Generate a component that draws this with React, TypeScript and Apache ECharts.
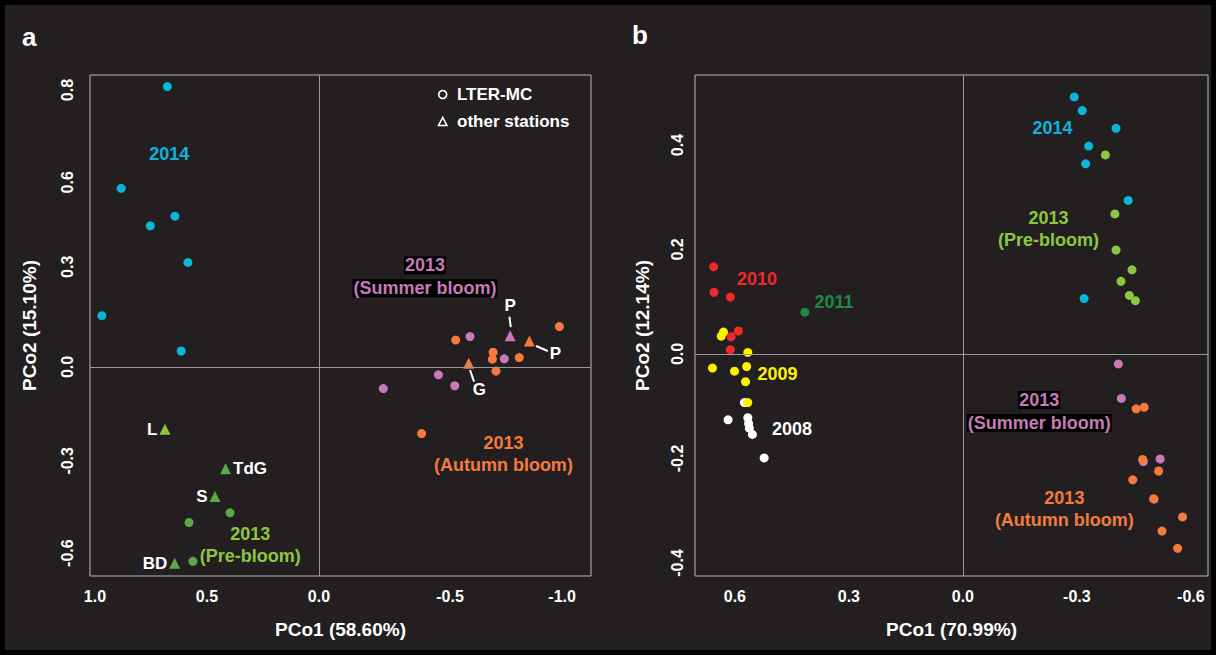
import React, { useEffect, useRef } from "react";
import * as echarts from "echarts";

// ---------- Panel a data (PCo1, PCo2) ----------
const a2014 = [[0.677, 0.896], [0.883, 0.571], [0.643, 0.482], [0.753, 0.451], [0.585, 0.334], [0.969, 0.164], [0.615, 0.051]];
const aPre = [[0.397, -0.466], [0.58, -0.497], [0.5625, -0.621]];
const aSummer = [[-0.674, 0.097], [-0.827, 0.026], [-0.533, -0.025], [-0.606, -0.06], [-0.287, -0.069]];
const aAutumn = [[-1.073, 0.129], [-0.61, 0.086], [-0.777, 0.047], [-0.774, 0.025], [-0.894, 0.03], [-0.79, -0.013], [-0.458, -0.213]];
// other stations (triangles)
const aStationNames = ["L", "TdG", "S", "BD", "P", "P", "G"];
const aStationGroup = ["preL", "pre", "pre", "pre", "summer", "autumn", "autumn"];
const aStationXY = [[0.6875, -0.199], [0.417, -0.325], [0.464, -0.414], [0.644, -0.627], [-0.853, 0.1], [-0.939, 0.083], [-0.668, 0.012]];
const aStationLabelPos = ["left", "right", "left", "left", "none", "none", "none"];
// detached labels with leader lines
const aLeaderText = [["P", -0.853, 0.196], ["P", -1.055, 0.044], ["G", -0.716, -0.071]];
const aLeaderLines = [[[-0.85, 0.161], [-0.856, 0.127]], [[-0.969, 0.067], [-1.021, 0.051]], [[-0.674, -0.01], [-0.692, -0.047]]];
const aXTickPos = [1.0, 0.5, 0.0, -0.585, -1.085];
const aXTickLabels = ["1.0", "0.5", "0.0", "-0.5", "-1.0"];
const aYTickPos = [0.885, 0.59, 0.32, 0.0, -0.3, -0.595];
const aYTickLabels = ["0.8", "0.6", "0.3", "0.0", "-0.3", "-0.6"];

// ---------- Panel b data ----------
const b2008 = [[0.575, -0.093], [0.618, -0.126], [0.566, -0.122], [0.564, -0.133], [0.562, -0.142], [0.554, -0.154], [0.523, -0.199]];
const b2010 = [[0.656, 0.167], [0.655, 0.118], [0.612, 0.109], [0.591, 0.044], [0.61, 0.033], [0.612, 0.008]];
const b2009 = [[0.636, 0.034], [0.63, 0.042], [0.566, 0.003], [0.659, -0.027], [0.601, -0.033], [0.569, -0.024], [0.572, -0.053], [0.566, -0.093]];
const b2011 = [[0.416, 0.08]];
const b2014 = [[-0.293, 0.492], [-0.314, 0.466], [-0.403, 0.432], [-0.331, 0.398], [-0.323, 0.364], [-0.435, 0.294], [-0.319, 0.106]];
const bPre = [[-0.375, 0.381], [-0.4, 0.268], [-0.403, 0.199], [-0.445, 0.161], [-0.416, 0.139], [-0.438, 0.112], [-0.454, 0.102]];
const bSummer = [[-0.409, -0.019], [-0.417, -0.085], [-0.475, -0.206], [-0.519, -0.201], [-0.503, -0.278]];
const bAutumn = [[-0.456, -0.105], [-0.477, -0.102], [-0.473, -0.202], [-0.515, -0.224], [-0.447, -0.241], [-0.502, -0.277], [-0.578, -0.312], [-0.524, -0.339], [-0.565, -0.372]];
const bXTicks = [0.6, 0.3, 0.0, -0.3, -0.6];
const bYTicks = [0.4, 0.2, 0.0, -0.2, -0.4];

const C = {
  bg: "#231f20",
  cyan: "#0db4d9",
  orange: "#f47a3e",
  purple: "#c67ab9",
  red: "#ee2a2a",
  yellow: "#fff200",
  white: "#ffffff",
  darkGreen: "#1b8a45",
  lightGreen: "#8dc63f",
  green: "#5ba846",
  border: "#b8b8b8",
  zero: "#9a9a9a",
};
const FONT = "'Liberation Sans', Arial, sans-serif";
const NO_BORDER = { textBorderWidth: 0, textBorderColor: "transparent", textShadowBlur: 0, textShadowColor: "transparent" };

function lookup(pos: number[], labels: string[], v: number) {
  for (let i = 0; i < pos.length; i++) if (Math.abs(pos[i] - v) < 1e-6) return labels[i];
  return "";
}

function dots(data: number[][], color: string, xi: number, size = 9, extra: any = {}) {
  return {
    type: "scatter",
    xAxisIndex: xi,
    yAxisIndex: xi,
    symbol: "circle",
    symbolSize: size,
    data,
    itemStyle: { color, opacity: 1 },
    silent: true,
    ...extra,
  };
}

function textSeries(xi: number, items: any[]) {
  return {
    type: "scatter",
    xAxisIndex: xi,
    yAxisIndex: xi,
    symbolSize: 0,
    silent: true,
    z: 5,
    itemStyle: { color: "#000", opacity: 1 },
    data: items.map((it) => ({
      value: [it.x, it.y],
      label: {
        show: true,
        position: "inside",
        formatter: it.text,
        color: it.color,
        opacity: 1,
        fontSize: it.size || 18,
        fontWeight: "bold",
        fontFamily: FONT,
        lineHeight: it.lh || 22,
        ...NO_BORDER,
        rich: it.rich,
      },
    })),
  };
}

const zeroLine = {
  silent: true,
  symbol: ["none", "none"],
  label: { show: false },
  lineStyle: { color: C.zero, width: 1, type: "solid", opacity: 1 },
  data: [{ xAxis: 0 }, { yAxis: 0 }],
};

export default function App() {
  const ref = useRef<HTMLDivElement>(null);
  useEffect(() => {
    if (!ref.current) return;
    const chart = echarts.init(ref.current, null, { renderer: "svg" });
    const tickLabel = { color: C.white, fontSize: 16, fontWeight: "bold", fontFamily: FONT };
    const nameStyle = { color: C.white, fontSize: 19, fontWeight: "bold", fontFamily: FONT };
    const stationColor: Record<string, string> = { preL: C.lightGreen, pre: C.green, summer: C.purple, autumn: C.orange };
    const richSummer = { s: { backgroundColor: "#000", color: C.purple, fontSize: 18, fontWeight: "bold", fontFamily: FONT, lineHeight: 23, padding: [0, 1, 0, 1], ...NO_BORDER } };

    const option: any = {
      animation: false,
      backgroundColor: "transparent",
      grid: [
        { left: 90, top: 75, width: 501, height: 501, show: true, borderColor: C.border, borderWidth: 1, backgroundColor: "transparent" },
        { left: 695, top: 75, width: 513, height: 501, show: true, borderColor: C.border, borderWidth: 1, backgroundColor: "transparent" },
      ],
      xAxis: [
        {
          type: "value", gridIndex: 0, inverse: true, min: -1.214, max: 1.022,
          name: "PCo1 (58.60%)", nameLocation: "middle", nameGap: 44, nameTextStyle: nameStyle,
          axisLine: { show: false }, axisTick: { show: false }, splitLine: { show: false },
          axisLabel: { ...tickLabel, margin: 12, customValues: aXTickPos, formatter: (v: number) => lookup(aXTickPos, aXTickLabels, v) },
        },
        {
          type: "value", gridIndex: 1, inverse: true, min: -0.645, max: 0.705,
          name: "PCo1 (70.99%)", nameLocation: "middle", nameGap: 44, nameTextStyle: nameStyle,
          axisLine: { show: false }, axisTick: { show: false }, splitLine: { show: false },
          axisLabel: { ...tickLabel, margin: 12, customValues: bXTicks, formatter: (v: number) => v.toFixed(1) },
        },
      ],
      yAxis: [
        {
          type: "value", gridIndex: 0, min: -0.668, max: 0.933,
          name: "PCo2 (15.10%)", nameLocation: "middle", nameGap: 51, nameTextStyle: nameStyle,
          axisLine: { show: false }, axisTick: { show: false }, splitLine: { show: false },
          axisLabel: { ...tickLabel, rotate: 90, margin: 15, customValues: aYTickPos, formatter: (v: number) => lookup(aYTickPos, aYTickLabels, v) },
        },
        {
          type: "value", gridIndex: 1, min: -0.425, max: 0.534,
          name: "PCo2 (12.14%)", nameLocation: "middle", nameGap: 43, nameTextStyle: nameStyle,
          axisLine: { show: false }, axisTick: { show: false }, splitLine: { show: false },
          axisLabel: { ...tickLabel, rotate: 90, margin: 10, customValues: bYTicks, formatter: (v: number) => v.toFixed(1) },
        },
      ],
      graphic: [
        { type: "text", left: 22, top: 24, style: { text: "a", fill: C.white, font: `bold 26px ${FONT}` } },
        { type: "text", left: 632, top: 22, style: { text: "b", fill: C.white, font: `bold 26px ${FONT}` } },
        { type: "circle", shape: { cx: 442.7, cy: 94.5, r: 4 }, style: { fill: "none", stroke: C.white, lineWidth: 1.6 } },
        { type: "polygon", shape: { points: [[442.7, 117.5], [438.5, 125.5], [446.9, 125.5]] }, style: { fill: "none", stroke: C.white, lineWidth: 1.6 } },
        { type: "text", x: 457, y: 94.5, style: { text: "LTER-MC", fill: C.white, font: `bold 17px ${FONT}`, verticalAlign: "middle" } },
        { type: "text", x: 457, y: 121.5, style: { text: "other stations", fill: C.white, font: `bold 17px ${FONT}`, verticalAlign: "middle" } },
      ],
      series: [
        // ---- panel a ----
        dots(a2014, C.cyan, 0, 9, { markLine: zeroLine }),
        dots(aPre, C.green, 0),
        dots(aSummer, C.purple, 0),
        dots(aAutumn, C.orange, 0),
        {
          type: "scatter", xAxisIndex: 0, yAxisIndex: 0, symbol: "triangle", symbolSize: 11, silent: true, z: 4,
          itemStyle: { opacity: 1 },
          data: aStationXY.map((p, i) => ({
            value: p,
            itemStyle: { color: stationColor[aStationGroup[i]], opacity: 1 },
            label: {
              show: aStationLabelPos[i] !== "none",
              position: aStationLabelPos[i] === "none" ? "top" : aStationLabelPos[i],
              distance: 2,
              formatter: aStationNames[i],
              color: C.white, opacity: 1, fontSize: 17, fontWeight: "bold", fontFamily: FONT,
              ...NO_BORDER,
            },
          })),
          markLine: {
            silent: true, symbol: ["none", "none"], label: { show: false },
            lineStyle: { color: C.white, width: 2, type: "solid", opacity: 1 },
            data: aLeaderLines.map((seg) => [{ coord: seg[0] }, { coord: seg[1] }]),
          },
        },
        textSeries(0, [
          ...aLeaderText.map((t) => ({ text: t[0], x: t[1], y: t[2], color: C.white, size: 17 })),
          { text: "2014", x: 0.668, y: 0.681, color: C.cyan },
          { text: "2013\n(Pre-bloom)", x: 0.307, y: -0.57, color: C.lightGreen },
          { text: "{s|2013}\n{s|(Summer bloom)}", x: -0.473, y: 0.288, color: C.purple, rich: richSummer },
          { text: "2013\n(Autumn bloom)", x: -0.823, y: -0.278, color: C.orange },
        ]),
        // ---- panel b ----
        dots(b2008, C.white, 1, 9, { markLine: zeroLine }),
        dots(b2010, C.red, 1),
        dots(b2009, C.yellow, 1),
        dots(b2011, C.darkGreen, 1),
        dots(b2014, C.cyan, 1),
        dots(bPre, C.lightGreen, 1),
        dots(bSummer, C.purple, 1),
        dots(bAutumn, C.orange, 1),
        textSeries(1, [
          { text: "2010", x: 0.542, y: 0.144, color: C.red },
          { text: "2011", x: 0.339, y: 0.099, color: C.darkGreen },
          { text: "2009", x: 0.488, y: -0.038, color: C.yellow },
          { text: "2008", x: 0.45, y: -0.144, color: C.white },
          { text: "2014", x: -0.236, y: 0.432, color: C.cyan },
          { text: "2013\n(Pre-bloom)", x: -0.225, y: 0.24, color: C.lightGreen },
          { text: "{s|2013}\n{s|(Summer bloom)}", x: -0.201, y: -0.11, color: C.purple, rich: richSummer },
          { text: "2013\n(Autumn bloom)", x: -0.267, y: -0.296, color: C.orange },
        ]),
      ],
    };
    chart.setOption(option);
    return () => chart.dispose();
  }, []);

  return (
    <div
      style={{
        position: "fixed", left: 0, top: 0, width: 1216, height: 655,
        background: C.bg, boxShadow: "inset 0 0 0 5px #000",
      }}
    >
      <div ref={ref} style={{ position: "absolute", left: 0, top: 0, width: 1216, height: 655 }} />
    </div>
  );
}
